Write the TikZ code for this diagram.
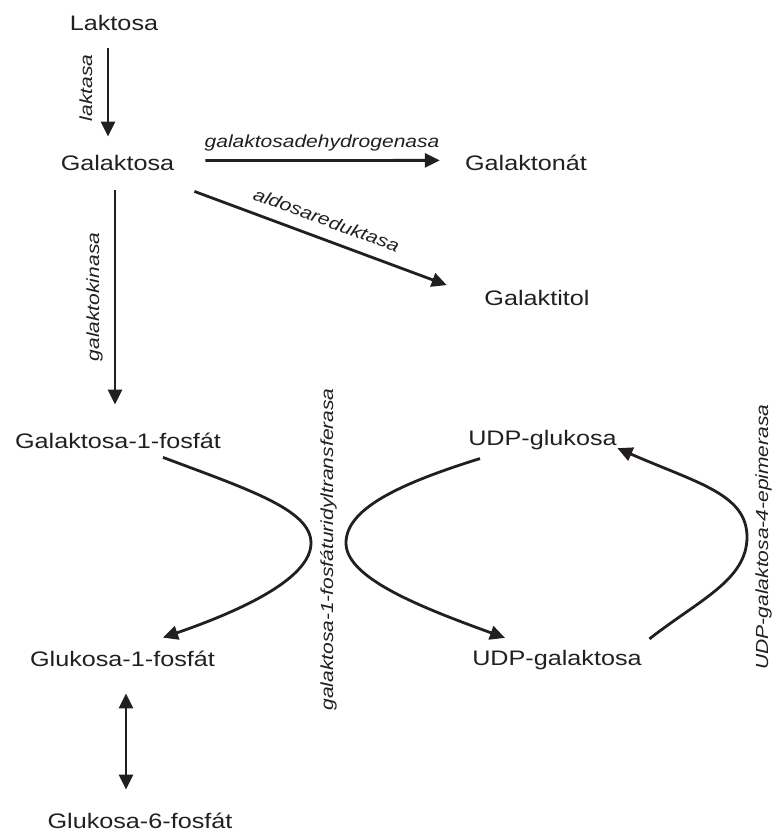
\documentclass[tikz,border=0pt]{standalone}
\usepackage{fontspec}
\setmainfont{Liberation Sans}[FakeStretch=1.2]
\usetikzlibrary{arrows.meta}
\definecolor{ink}{HTML}{231F20}
\begin{document}
\begin{tikzpicture}[x=1pt,y=-1pt,
  met/.style={font=\fontsize{21}{25}\selectfont, text=ink, inner sep=0pt, anchor=base},
  enz/.style={font=\itshape\fontsize{17.5}{21}\selectfont, text=ink, inner sep=0pt, anchor=base},
  rx/.style={draw=ink, line width=2.8pt, -{Triangle[length=15pt,width=14pt]}},
  rxx/.style={draw=ink, line width=2.8pt, {Triangle[length=15pt,width=14pt]}-{Triangle[length=15pt,width=14pt]}},
]
\useasboundingbox (0,0) rectangle (772,836);
% metabolites
\node[met] (lak) at (114,30) {Laktosa};
\node[met] (gal) at (117.5,170) {Galaktosa};
\node[met] (gon) at (526,170) {Galaktonát};
\node[met] (gtl) at (537,305) {Galaktitol};
\node[met] (g1p) at (118,448) {Galaktosa-1-fosfát};
\node[met] (c1p) at (122.5,666) {Glukosa-1-fosfát};
\node[met] (c6p) at (140,828) {Glukosa-6-fosfát};
\node[met] (ugl) at (542.5,445) {UDP-glukosa};
\node[met] (uga) at (557,665) {UDP-galaktosa};
% enzymes
\node[enz, rotate=90] (e1) at (92,88) {laktasa};
\node[enz] (e2) at (322,147) {galaktosadehydrogenasa};
\node[enz, rotate=-20.3] (e3) at (324.4,225.8) {aldosareduktasa};
\node[enz, rotate=90] (e4) at (99,297) {galaktokinasa};
\node[enz, rotate=90] (e5) at (333,549.5) {galaktosa-1-fosfáturidyltransferasa};
\node[enz, rotate=90] (e6) at (768,537) {UDP-galaktosa-4-epimerasa};
% reactions
\draw[rx] ([xshift=-6pt,yshift=-18pt]lak.south) -- ([xshift=-9.5pt,yshift=18pt]gal.north);
\draw[rx] ([xshift=31pt,yshift=2pt]gal.east) -- ([xshift=-25pt,yshift=2pt]gon.west);
\draw[rx] ([xshift=20pt,yshift=-21pt]gal.south east) -- ([xshift=-37.5pt,yshift=12.4pt]gtl.west);
\draw[rx] ([xshift=-2.5pt,yshift=-20pt]gal.south) -- ([xshift=-3pt,yshift=27.7pt]g1p.north);
\draw[rxx] ([xshift=3.5pt,yshift=-27pt]c1p.south) -- ([xshift=-14pt,yshift=22.7pt]c6p.north);
\draw[rx] ([xshift=45pt,yshift=-9pt]g1p.south) .. controls (250,490) and (311,510) .. (311,543)
  .. controls (311,578) and (243,610) .. ([xshift=40.5pt,yshift=12.7pt]c1p.north);
\draw[rx] ([xshift=-62.5pt,yshift=-9pt]ugl.south) .. controls (395,485) and (346,510) .. (346,543)
  .. controls (346,578) and (420,607) .. ([xshift=-52pt,yshift=11.7pt]uga.north);
\draw[rx] ([xshift=7.5pt,yshift=10.7pt]uga.north east) .. controls (699,600) and (747,580) .. (747,537)
  .. controls (747,494) and (697,483) .. ([xshift=0.5pt,yshift=-8.6pt]ugl.east);
\end{tikzpicture}
\end{document}
